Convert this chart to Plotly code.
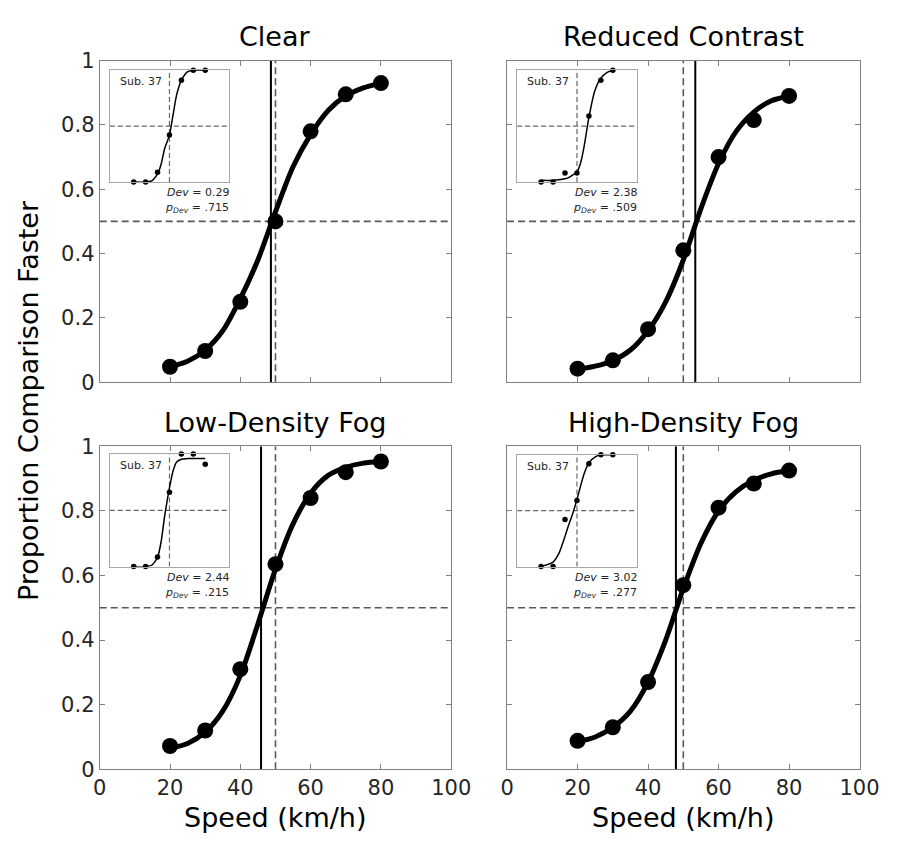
import plotly.graph_objects as go

W, H = 897, 848

# ---------------- data ----------------
titles = ["Clear", "Reduced Contrast", "Low-Density Fog", "High-Density Fog"]
speeds = [20, 30, 40, 50, 60, 70, 80]

prop_clear = [0.048, 0.097, 0.25, 0.50, 0.78, 0.895, 0.93]
prop_reduced = [0.042, 0.068, 0.165, 0.41, 0.70, 0.815, 0.89]
prop_lowfog = [0.072, 0.12, 0.31, 0.635, 0.84, 0.92, 0.953]
prop_highfog = [0.088, 0.13, 0.27, 0.57, 0.81, 0.885, 0.925]

fit_x = [20, 25, 30, 35, 40, 45, 50, 55, 60, 65, 70, 75, 80]
fit_clear = [0.048, 0.065, 0.10, 0.16, 0.26, 0.38, 0.53, 0.67, 0.77, 0.845, 0.89, 0.915, 0.93]
fit_reduced = [0.04, 0.05, 0.067, 0.10, 0.16, 0.25, 0.38, 0.54, 0.68, 0.78, 0.84, 0.875, 0.89]
fit_lowfog = [0.065, 0.08, 0.115, 0.18, 0.29, 0.45, 0.62, 0.76, 0.855, 0.91, 0.935, 0.948, 0.953]
fit_highfog = [0.085, 0.10, 0.13, 0.18, 0.27, 0.40, 0.56, 0.70, 0.80, 0.86, 0.895, 0.915, 0.925]

pse = [48.7, 53.4, 45.9, 47.9]
standard_speed = 50
threshold = 0.5

# inset (single subject 37)
sub_clear = [0.0, 0.0, 0.087, 0.42, 0.91, 1.0, 1.0]
sub_reduced = [0.0, 0.0, 0.08, 0.08, 0.59, 0.91, 1.0]
sub_lowfog = [0.0, 0.0, 0.084, 0.66, 1.0, 1.0, 0.91]
sub_highfog = [0.0, 0.0, 0.42, 0.59, 0.92, 1.0, 1.0]

sfit_x = [20, 30, 35, 40, 43, 46, 50, 53, 56, 60, 65, 70, 75, 80]
sfit_clear = [0.0, 0.0, 0.01, 0.07, 0.16, 0.30, 0.42, 0.60, 0.78, 0.91, 0.985, 1.0, 1.0, 1.0]
sfit_reduced = [0.015, 0.015, 0.02, 0.03, 0.04, 0.06, 0.09, 0.17, 0.32, 0.58, 0.82, 0.93, 0.98, 1.0]
sfit_lowfog = [0.0, 0.0, 0.01, 0.08, 0.22, 0.45, 0.70, 0.85, 0.93, 0.955, 0.96, 0.96, 0.96, 0.96]
sfit_highfog = [0.0, 0.04, 0.12, 0.27, 0.37, 0.46, 0.60, 0.72, 0.83, 0.93, 0.98, 1.0, 1.0, 1.0]

dev_vals = ["0.29", "2.38", "2.44", "3.02"]
pdev_vals = [".715", ".509", ".215", ".277"]
subject_label = "Sub. 37"

x_ticks = [0, 20, 40, 60, 80, 100]
y_ticks = [0, 0.2, 0.4, 0.6, 0.8, 1]
y_ticklabels = ["0", "0.2", "0.4", "0.6", "0.8", "1"]

props = [prop_clear, prop_reduced, prop_lowfog, prop_highfog]
fits = [fit_clear, fit_reduced, fit_lowfog, fit_highfog]
subs = [sub_clear, sub_reduced, sub_lowfog, sub_highfog]
sfits = [sfit_clear, sfit_reduced, sfit_lowfog, sfit_highfog]

# ---------------- layout geometry (pixels) ----------------
def fx(p):
    return p / W


def fy(p):
    return 1 - p / H


main_boxes = [  # left, right, top, bottom (pixels)
    (95.6, 458.0, 50.0, 381.0),
    (515.6, 879.0, 50.0, 381.0),
    (95.6, 458.0, 447.0, 779.3),
    (515.6, 879.0, 447.0, 779.3),
]
inset_boxes = [
    (106.0, 229.0, 60.0, 175.0),
    (526.0, 649.3, 60.0, 175.0),
    (106.0, 229.0, 455.0, 570.7),
    (526.0, 649.3, 455.7, 570.7),
]

FONT = "DejaVu Sans"
TXT = "#262626"
AXC = "#808080"

fig = go.Figure()
layout = dict(
    width=W, height=H,
    margin=dict(l=0, r=0, t=0, b=0),
    paper_bgcolor="white", plot_bgcolor="white",
    showlegend=False,
    font=dict(family=FONT, color=TXT),
)
annotations = []

for i in range(4):
    l, r, t, b = main_boxes[i]
    xa = "xaxis" if i == 0 else f"xaxis{i+1}"
    ya = "yaxis" if i == 0 else f"yaxis{i+1}"
    xr = "x" if i == 0 else f"x{i+1}"
    yr = "y" if i == 0 else f"y{i+1}"
    layout[xa] = dict(
        domain=[fx(l), fx(r)], range=[0, 100], anchor=yr,
        tickvals=x_ticks, showticklabels=(i >= 2),
        ticks="inside", ticklen=5, tickcolor=AXC, tickwidth=1,
        showline=True, linecolor=AXC, linewidth=1, mirror="ticks",
        showgrid=False, zeroline=False,
        tickfont=dict(size=21, color=TXT, family=FONT),
    )
    layout[ya] = dict(
        domain=[fy(b), fy(t)], range=[0, 1], anchor=xr,
        tickvals=y_ticks, ticktext=y_ticklabels, showticklabels=(i % 2 == 0),
        ticks="inside", ticklen=5, tickcolor=AXC, tickwidth=1,
        showline=True, linecolor=AXC, linewidth=1, mirror="ticks",
        showgrid=False, zeroline=False,
        tickfont=dict(size=21, color=TXT, family=FONT),
    )
    # reference lines
    fig.add_trace(go.Scatter(x=[0, 100], y=[threshold, threshold], mode="lines",
                             line=dict(color="#595959", width=1.6, dash="7px,4px"),
                             xaxis=xr, yaxis=yr, hoverinfo="skip"))
    fig.add_trace(go.Scatter(x=[standard_speed, standard_speed], y=[0, 1], mode="lines",
                             line=dict(color="#595959", width=1.6, dash="7px,4px"),
                             xaxis=xr, yaxis=yr, hoverinfo="skip"))
    fig.add_trace(go.Scatter(x=[pse[i], pse[i]], y=[0, 1], mode="lines",
                             line=dict(color="black", width=2),
                             xaxis=xr, yaxis=yr, hoverinfo="skip"))
    # fit curve
    fig.add_trace(go.Scatter(x=fit_x, y=fits[i], mode="lines",
                             line=dict(color="black", width=5, shape="spline", smoothing=0.8),
                             xaxis=xr, yaxis=yr))
    # data
    fig.add_trace(go.Scatter(x=speeds, y=props[i], mode="markers",
                             marker=dict(color="black", size=16),
                             xaxis=xr, yaxis=yr, cliponaxis=False))
    # panel title
    annotations.append(dict(text=titles[i], x=fx((l + r) / 2), y=fy(t - 25),
                            xref="paper", yref="paper", showarrow=False,
                            xanchor="center", yanchor="middle",
                            font=dict(size=27, color="black", family=FONT)))

# insets
for i in range(4):
    l, r, t, b = inset_boxes[i]
    n = 5 + i
    xa, ya = f"xaxis{n}", f"yaxis{n}"
    xr, yr = f"x{n}", f"y{n}"
    layout[xa] = dict(domain=[fx(l), fx(r)], range=[0, 100], anchor=yr,
                      showticklabels=False, ticks="", showgrid=False, zeroline=False,
                      showline=True, linecolor="#a6a6a6", linewidth=1, mirror=True)
    layout[ya] = dict(domain=[fy(b), fy(t)], range=[0, 1], anchor=xr,
                      showticklabels=False, ticks="", showgrid=False, zeroline=False,
                      showline=True, linecolor="#a6a6a6", linewidth=1, mirror=True)
    fig.add_trace(go.Scatter(x=[0, 100], y=[threshold, threshold], mode="lines",
                             line=dict(color="#666666", width=1.2, dash="5px,3px"),
                             xaxis=xr, yaxis=yr, hoverinfo="skip"))
    fig.add_trace(go.Scatter(x=[standard_speed, standard_speed], y=[0, 1], mode="lines",
                             line=dict(color="#666666", width=1.2, dash="5px,3px"),
                             xaxis=xr, yaxis=yr, hoverinfo="skip"))
    fig.add_trace(go.Scatter(x=sfit_x, y=sfits[i], mode="lines",
                             line=dict(color="black", width=1.5, shape="spline", smoothing=0.6),
                             xaxis=xr, yaxis=yr, cliponaxis=False))
    fig.add_trace(go.Scatter(x=speeds, y=subs[i], mode="markers",
                             marker=dict(color="black", size=5.5),
                             xaxis=xr, yaxis=yr, cliponaxis=False))
    annotations.append(dict(text=subject_label, x=fx(l + 8), y=fy(t + 12),
                            xref="paper", yref="paper", showarrow=False,
                            xanchor="left", yanchor="middle",
                            font=dict(size=11, color=TXT, family=FONT)))
    annotations.append(dict(text=f"<i>Dev</i> = {dev_vals[i]}", x=fx(r + 2), y=fy(b + 11),
                            xref="paper", yref="paper", showarrow=False,
                            xanchor="right", yanchor="middle",
                            font=dict(size=11, color=TXT, family=FONT)))
    annotations.append(dict(text=f"<i>p</i><sub><i>Dev</i></sub> = {pdev_vals[i]}",
                            x=fx(r + 2), y=fy(b + 27),
                            xref="paper", yref="paper", showarrow=False,
                            xanchor="right", yanchor="middle",
                            font=dict(size=11, color=TXT, family=FONT)))

# axis titles
for cx in [(95.6 + 458) / 2, (515.6 + 879) / 2]:
    annotations.append(dict(text="Speed (km/h)", x=fx(cx), y=fy(829),
                            xref="paper", yref="paper", showarrow=False,
                            xanchor="center", yanchor="middle",
                            font=dict(size=27, color="black", family=FONT)))
annotations.append(dict(text="Proportion Comparison Faster", x=fx(22), y=fy(400),
                        xref="paper", yref="paper", showarrow=False, textangle=-90,
                        xanchor="center", yanchor="middle",
                        font=dict(size=27, color="black", family=FONT)))

layout["annotations"] = annotations
fig.update_layout(**layout)
fig.write_html("out.html", config={"displayModeBar": False},
               post_script="document.body.style.margin='0';document.body.style.padding='0';")
